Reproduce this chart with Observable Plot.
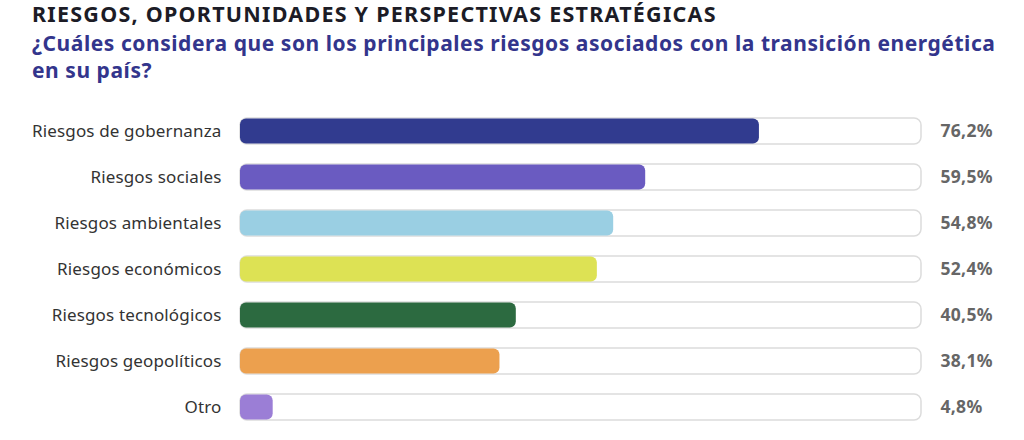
<!DOCTYPE html>
<html><head><meta charset="utf-8">
<script src="https://cdn.jsdelivr.net/npm/d3@7"></script>
<script src="https://cdn.jsdelivr.net/npm/@observablehq/plot@0.6"></script>
<style>
body{margin:0;background:#fff;font-family:"Noto Sans",sans-serif;}
#t{position:absolute;left:32px;top:1px;font-size:21.5px;font-weight:700;color:#1c1c26;line-height:26px;letter-spacing:1.25px;white-space:nowrap;}
#s{position:absolute;left:32px;top:30px;font-size:21px;font-weight:700;color:#33358c;line-height:27px;width:980px;letter-spacing:0.55px;}
#c{position:absolute;left:0;top:100px;}
</style></head><body>
<div id="t">RIESGOS, OPORTUNIDADES Y PERSPECTIVAS ESTRATÉGICAS</div>
<div id="s">¿Cuáles considera que son los principales riesgos asociados con la transición energética en su país?</div>
<div id="c"></div>
<script>
const categories = ["Riesgos de gobernanza","Riesgos sociales","Riesgos ambientales","Riesgos económicos","Riesgos tecnológicos","Riesgos geopolíticos","Otro"];
const values = [76.2,59.5,54.8,52.4,40.5,38.1,4.8];
const labels = ["76,2%","59,5%","54,8%","52,4%","40,5%","38,1%","4,8%"];
const colors = ["#313b8f","#6a5bc1","#9acfe3","#dde254","#2c6a40","#eca04e","#9b7ed6"];
const data = categories.map((c,i)=>({cat:c,value:values[i],label:labels[i],color:colors[i]}));
const chart = Plot.plot({
  width:1024, height:340,
  marginLeft:240, marginRight:103, marginTop:7, marginBottom:9,
  x:{domain:[0,100], axis:null},
  y:{domain:categories, padding:0, label:null, tickSize:0, tickPadding:19},
  style:{fontFamily:"Noto Sans, sans-serif", fontSize:"17px", color:"#333"},
  marks:[
    Plot.barX(data,{y:"cat",x1:0,x2:()=>100,fill:"#fff",stroke:"#dcdcdc",strokeWidth:1.5,rx:7,insetTop:10,insetBottom:10}),
    Plot.barX(data,{y:"cat",x1:0,x2:"value",fill:"color",rx:6,insetTop:10.5,insetBottom:10.5}),
    Plot.text(data,{y:"cat",x:()=>100,text:"label",dx:19,textAnchor:"start",fill:"#666",fontWeight:700,fontSize:17.5}),
    Plot.axisY({tickSize:0,tickPadding:19,fontSize:17,fill:"#333"})
  ]
});
chart.querySelectorAll("text").forEach(t=>t.style.letterSpacing="0.15px");
chart.querySelectorAll("g[aria-label='text'] text").forEach(t=>t.style.letterSpacing="0.3px");
document.getElementById("c").appendChild(chart);
</script>
</body></html>
